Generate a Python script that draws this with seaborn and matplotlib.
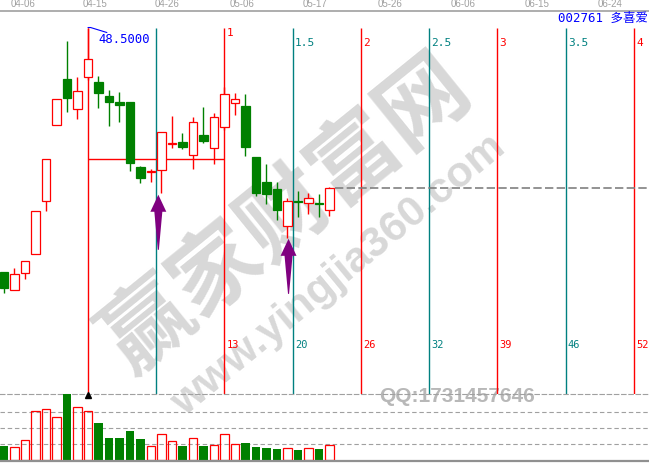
"""
002761 多喜爱 daily candles with time-ratio lines and volume
"""

import matplotlib

matplotlib.use("Agg")
import matplotlib.pyplot as plt
import numpy as np
import pandas as pd
import seaborn as sns

# daily bars (oldest first)
opens = [33.86, 32.78, 33.80, 34.94, 38.12, 42.68, 45.44, 43.64, 45.56, 45.26,
         44.42, 44.06, 44.06, 40.16, 39.86, 39.98, 41.52, 41.66, 40.88, 42.08,
         41.30, 42.56, 44.00, 43.82, 40.76, 39.26, 38.84, 36.62, 38.12, 38.00,
         38.00, 37.58]
highs = [33.86, 34.10, 34.52, 37.52, 40.64, 44.24, 47.72, 45.56, 48.50, 45.62,
         44.78, 44.66, 44.06, 40.22, 40.04, 42.26, 43.22, 42.20, 43.16, 43.76,
         43.40, 44.96, 44.60, 44.54, 40.76, 40.34, 39.26, 38.30, 38.72, 38.60,
         38.54, 38.96]
lows = [32.60, 32.78, 33.44, 34.94, 37.52, 42.68, 43.46, 43.04, 45.38, 43.70,
        42.62, 42.86, 39.92, 39.20, 39.26, 38.60, 41.30, 41.24, 40.04, 41.60,
        40.34, 42.38, 43.28, 40.82, 38.42, 37.94, 36.98, 35.90, 37.16, 37.34,
        37.16, 37.22]
closes = [32.90, 33.74, 34.52, 37.52, 40.64, 44.24, 44.30, 44.72, 46.64, 44.60,
          44.06, 43.88, 40.40, 39.50, 39.90, 42.26, 41.56, 41.36, 42.86, 41.72,
          43.16, 44.54, 44.24, 41.36, 38.60, 38.54, 37.58, 38.12, 38.06, 38.30,
          37.94, 38.90]
volumes = [14, 13, 20, 49, 51, 43, 66, 53, 49, 37, 22, 22, 29, 21, 14, 26, 19,
           14, 22, 14, 15, 26, 16, 17, 13, 12, 11, 12, 10, 12, 11, 15]

date_labels = ["04-06", "04-15", "04-26", "05-06", "05-17", "05-26", "06-06", "06-15", "06-24"]
date_pos = [1.8, 8.7, 15.5, 22.7, 29.6, 36.8, 43.7, 50.8, 57.7]

# time ratio lines counted from the top bar
base_bar = 8
time_offsets = [0, 6.5, 13, 19.5, 26, 32.5, 39, 45.5, 52]
ratio_labels = ["", "", "1", "1.5", "2", "2.5", "3", "3.5", "4"]
count_labels = ["", "", "13", "20", "26", "32", "39", "46", "52"]

peak_price = 48.50
ref_price = 40.64  # horizontal line from the top bar to ratio 1

arrow_x = [14.7, 27.1]
arrow_tip = [38.48, 35.84]
arrow_tail = [35.18, 32.54]

RED = "#ff0000"
GREEN = "#008000"
TEAL = "#008080"
BLUE = "#0000ff"
PURPLE = "#800080"
GRAY = "#a0a0a0"

df = pd.DataFrame({"open": opens, "high": highs, "low": lows,
                   "close": closes, "volume": volumes})
df["idx"] = np.arange(len(df))
df["up"] = df["close"] >= df["open"]

sns.set_style("white")
plt.rcParams["font.family"] = ["DejaVu Sans Mono", "Noto Sans CJK SC"]

H = 463.0
fig = plt.figure(figsize=(6.49, 4.63), dpi=100)
ax = fig.add_axes([0, 69 / H, 1, 383.5 / H])
axv = fig.add_axes([0, 2 / H, 1, 67 / H])
axv.set_facecolor("none")

xlim = (-0.38, 61.43)

# candles
cols = np.where(df["up"], RED, GREEN)
ax.vlines(df["idx"], df["low"], df["high"], colors=cols, lw=1, zorder=3)
body_lo = df[["open", "close"]].min(axis=1)
body_h = (df["close"] - df["open"]).abs().clip(lower=0.04)
up = df[df["up"]]
dn = df[~df["up"]]
ax.bar(up["idx"], body_h[df["up"]], bottom=body_lo[df["up"]], width=0.8,
       facecolor="white", edgecolor=RED, lw=0.9, zorder=4)
ax.bar(dn["idx"], body_h[~df["up"]], bottom=body_lo[~df["up"]], width=0.8,
       facecolor=GREEN, edgecolor=GREEN, lw=0.9, zorder=4)

# time ratio lines
for i, off in enumerate(time_offsets):
    c = RED if i % 2 == 0 else TEAL
    x = base_bar + off
    ax.vlines(x, 26.54, peak_price, colors=c, lw=1, zorder=2)
    if ratio_labels[i]:
        yl = 48.2 if ratio_labels[i] == "1" else 47.57
        ax.text(x + 0.2, yl, ratio_labels[i], color=c, fontsize=8,
                ha="left", va="center", zorder=5)
    if count_labels[i]:
        ax.text(x + 0.2, 29.48, count_labels[i], color=c, fontsize=7.5,
                ha="left", va="center", zorder=5)

ax.hlines(ref_price, base_bar, base_bar + time_offsets[2], colors=RED, lw=1, zorder=2)
ax.hlines(closes[-1], len(closes) - 0.5, xlim[1], colors="#808080", lw=1.2,
          linestyles=(0, (5, 2)), zorder=2)

# peak marker
ax.plot([base_bar, base_bar + 0.25, base_bar + 1.8],
        [peak_price, peak_price, peak_price - 0.3], color=BLUE, lw=0.8, zorder=5)
ax.text(base_bar + 0.95, 47.78, f"{peak_price:.4f}", color=BLUE, fontsize=8.8,
        ha="left", va="center", zorder=5)

# arrows
for x, tip, tail in zip(arrow_x, arrow_tip, arrow_tail):
    b = tip - 1.02
    ax.fill([x, x + 0.76, x + 0.38, x + 0.05, x - 0.05, x - 0.38, x - 0.76],
            [tip, b, b, tail, tail, b, b], color=PURPLE, lw=0, zorder=6)

ax.set_xlim(*xlim)
ax.set_ylim(26.54, 49.52)
ax.set_yticks([])
ax.xaxis.tick_top()
ax.set_xticks(date_pos)
ax.set_xticklabels(date_labels)
ax.tick_params(axis="x", length=0, pad=1.2, labelsize=7, labelcolor=GRAY)
for lbl in ax.get_xticklabels():
    lbl.set_fontfamily("Liberation Sans")
for s in ["left", "right"]:
    ax.spines[s].set_visible(False)
ax.spines["top"].set_color(GRAY)
ax.spines["top"].set_linewidth(1.2)
ax.spines["bottom"].set_color(GRAY)
ax.spines["bottom"].set_linewidth(0.8)
ax.spines["bottom"].set_linestyle((0, (4, 2.5)))

# title
fig.text(0.998, 1 - 18 / H, "002761 多喜爱", color=BLUE, fontsize=9,
         ha="right", va="center")

# watermark
wm = dict(transform=fig.transFigure, ha="center", va="center",
          rotation_mode="anchor", clip_on=False, zorder=0.5)
ax.text(0.442, 0.536, "赢家财富网", fontsize=64, fontweight="bold", color="#d8d8d8",
        rotation=39, family="Noto Sans CJK SC", **wm)
ax.text(0.522, 0.406, "www.yingjia360.com", fontsize=31, fontweight="bold",
        color="#d8d8d8", rotation=39.5, family="Liberation Sans", **wm)
ax.text(0.704, 0.143, "QQ:1731457646", fontsize=15, fontweight="bold",
        color="#b8b8b8", family="Liberation Sans", **wm)

# volume
sns.barplot(x=up["idx"], y=up["volume"], native_scale=True, fill=False,
            color=RED, width=0.8, linewidth=0.9, errorbar=None, ax=axv)
sns.barplot(x=dn["idx"], y=dn["volume"], native_scale=True,
            color=GREEN, width=0.8, linewidth=0, saturation=1, errorbar=None, ax=axv)
for v in [16, 32, 48]:
    axv.axhline(v, color=GRAY, lw=0.8, ls=(0, (4, 2.5)), zorder=0)
axv.plot(base_bar, 64.6, marker="^", color="black", ms=4.5, clip_on=False, zorder=6)
axv.set_xlim(*xlim)
axv.set_ylim(-1, 66)
axv.set_xticks([])
axv.set_yticks([])
axv.set_xlabel("")
axv.set_ylabel("")
for s in ["left", "right", "top"]:
    axv.spines[s].set_visible(False)
axv.spines["bottom"].set_color("#909090")
axv.spines["bottom"].set_linewidth(1.6)

fig.savefig("out.png", dpi=100)
